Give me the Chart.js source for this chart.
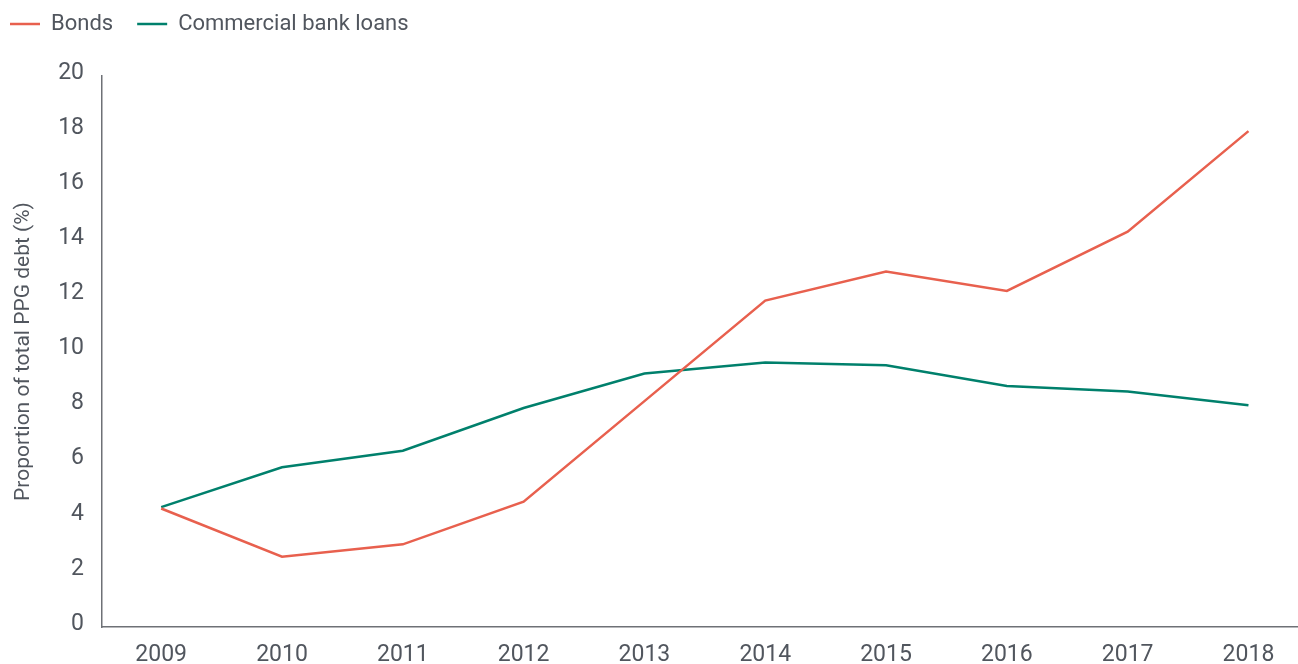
<!DOCTYPE html>
<html>
<head>
<meta charset="utf-8">
<script src="https://cdn.jsdelivr.net/npm/chart.js@4.4.1/dist/chart.umd.min.js"></script>
<style>
  html, body { margin: 0; padding: 0; background: #fff; }
  #wrap { width: 1298px; height: 664px; position: relative; }
</style>
</head>
<body>
<div id="wrap"><canvas id="debtChart"></canvas></div>
<script>
// Years on the x axis
var years = [2009, 2010, 2011, 2012, 2013, 2014, 2015, 2016, 2017, 2018];
// Share of total PPG debt, %
var bonds = [4.3, 2.55, 3.0, 4.55, 8.2, 11.85, 12.9, 12.2, 14.35, 18.0];
var bankLoans = [4.35, 5.8, 6.4, 7.95, 9.2, 9.6, 9.5, 8.75, 8.55, 8.05];
var yTicks = [0, 2, 4, 6, 8, 10, 12, 14, 16, 18, 20];

var textColor = '#51565e';
var axisColor = '#6e7176';
var fontFamily = 'Roboto, "Liberation Sans", sans-serif';

function toPoints(vals) {
  return years.map(function (y, i) { return { x: y, y: vals[i] }; });
}

// keep the legend band at a fixed height so the plot starts where the original does
var legendBand = {
  id: 'legendBand',
  beforeUpdate: function (chart) {
    var lg = chart.legend;
    if (lg && !lg._banded) {
      var fit = lg.fit;
      lg.fit = function () { fit.call(this); this.height = 87; };
      lg._banded = true;
    }
  }
};

var ctx = document.getElementById('debtChart').getContext('2d');
var chart = new Chart(ctx, {
  type: 'line',
  data: {
    datasets: [{
      label: 'Bonds',
      data: toPoints(bonds),
      borderColor: '#e8604e',
      backgroundColor: '#e8604e',
      borderWidth: 2.5,
      pointRadius: 0,
      tension: 0
    }, {
      label: 'Commercial bank loans',
      data: toPoints(bankLoans),
      borderColor: '#00806c',
      backgroundColor: '#00806c',
      borderWidth: 2.5,
      pointRadius: 0,
      tension: 0
    }]
  },
  options: {
    responsive: true,
    maintainAspectRatio: false,
    animation: false,
    // negative padding: lets the legend sit tight in the corner with wide gaps between items
    layout: { padding: { top: -11, left: -14, right: 0, bottom: 0 } },
    plugins: {
      tooltip: { enabled: false },
      legend: {
        position: 'top',
        align: 'start',
        labels: {
          color: textColor,
          font: { family: fontFamily, size: 22 },
          usePointStyle: true,
          pointStyle: 'line',
          pointStyleWidth: 30,
          padding: 24
        }
      }
    },
    scales: {
      x: {
        type: 'linear',
        min: 2008.51,
        max: 2018.41,
        grid: { display: false, drawTicks: false },
        border: { display: true, color: axisColor, width: 1.5 },
        afterBuildTicks: function (s) {
          s.ticks = years.map(function (y) { return { value: y }; });
        },
        afterFit: function (s) { s.height = 37; },
        ticks: {
          color: textColor,
          font: { family: fontFamily, size: 23 },
          padding: 14,
          maxRotation: 0,
          autoSkip: false,
          callback: function (v) { return String(v); }
        }
      },
      y: {
        min: 0,
        max: 20,
        grid: { display: false, drawTicks: false },
        border: { display: true, color: axisColor, width: 1.5 },
        afterBuildTicks: function (s) {
          s.ticks = yTicks.map(function (v) { return { value: v }; });
        },
        afterFit: function (s) { s.width = 116; },
        ticks: {
          color: textColor,
          font: { family: fontFamily, size: 23 },
          padding: 18,
          labelOffset: -3
        },
        title: {
          display: true,
          text: 'Proportion of total PPG debt (%)',
          color: textColor,
          font: { family: fontFamily, size: 21 },
          padding: { top: 25, bottom: 0 }
        }
      }
    }
  },
  plugins: [legendBand]
});
</script>
</body>
</html>
